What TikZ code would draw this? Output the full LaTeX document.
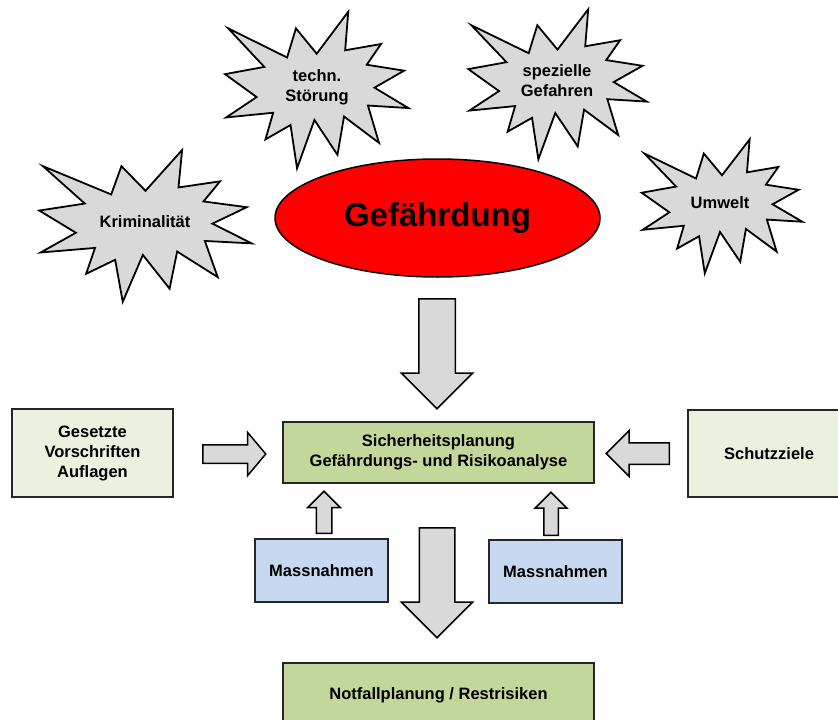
\documentclass[tikz,border=0pt]{standalone}
\usepackage{fontspec}
\setmainfont{Liberation Sans}
\usepackage{tikz}
\usetikzlibrary{positioning}
\usetikzlibrary{shapes.geometric}
\usetikzlibrary{shapes.arrows}

\definecolor{burstgray}{HTML}{D9D9D9}
\definecolor{hazardred}{HTML}{FF0000}
\definecolor{plangreen}{HTML}{C4D79B}
\definecolor{palegreen}{HTML}{EBF1DE}
\definecolor{paleblue}{HTML}{C6D9F1}

% explosion outline in a unit square, centred on the pic origin
\tikzset{
  pics/explosion/.style={code={
    \draw[line width=1.8pt, fill=burstgray, line join=miter]
      (0,-0.2315) -- (0.1723,-0.5) -- (0.1553,-0.2535) -- (0.3509,-0.2937)
      -- (0.2732,-0.1613) -- (0.4767,-0.1233) -- (0.3151,-0.0150) -- (0.5,0.1153)
      -- (0.2795,0.0992) -- (0.3400,0.3377) -- (0.1491,0.1693) -- (0.1133,0.4138)
      -- (-0.0124,0.1914) -- (-0.1072,0.5) -- (-0.1428,0.2235) -- (-0.2795,0.3156)
      -- (-0.2376,0.1452) -- (-0.4938,0.1753) -- (-0.3277,0.0451) -- (-0.5,-0.1012)
      -- (-0.2858,-0.1474) -- (-0.4829,-0.3937) -- (-0.1615,-0.2074) -- (-0.1133,-0.3937)
      -- cycle;
  }}
}

\begin{document}
\begin{tikzpicture}[x=1pt,y=-1pt,
    every node/.style={font=\bfseries\fontsize{16.5}{20}\selectfont, align=center, inner sep=0pt},
    box/.style={rectangle, draw=black!85, line width=1.5pt},
    greenbox/.style={box, fill=plangreen},
    palebox/.style={box, fill=palegreen},
    bluebox/.style={box, fill=paleblue},
    blockarrow/.style={single arrow, draw=black, fill=burstgray, line width=1.5pt,
                       inner xsep=0pt, single arrow tip angle=90, anchor=tail}]
        \useasboundingbox (0,0) rectangle (838,720);
        \clip (0,0) rectangle (838,720);

      % sources of danger
      \pic[xscale=212.4, yscale=151.7] at (145.5,225.9) {explosion};
      \pic[xscale=183.3, yscale=156.6] at (316.7,90)    {explosion};
      \pic[xscale=178.4, yscale=150]   at (557.5,84.3)  {explosion};
      \pic[xscale=160.6, yscale=134]   at (722,206.3)   {explosion};

      \node (krim)   at (145,222)  {Kriminalität};
      \node (tech)   at (317,87)   {techn.\\Störung};
      \node (gefahr) at (557,80.5) {spezielle\\Gefahren};
      \node (umwelt) at (720,203)  {Umwelt};

      \node[ellipse, draw, line width=1.5pt, fill=hazardred, minimum width=325pt, minimum height=118pt,
            font=\bfseries\fontsize{33}{40}\selectfont] (gef) at (437.5,218) {Gefährdung};

      % boxes
      \node[greenbox, minimum width=311pt, minimum height=61pt]  (plan)    at (438.5,452.5) {Sicherheitsplanung\\Gefährdungs- und Risikoanalyse};
      \node[palebox,  minimum width=161pt, minimum height=88pt]  (vorschr) at (92.5,453)    {Gesetzte\\Vorschriften\\Auflagen};
      \node[palebox,  minimum width=162pt, minimum height=87pt]  (schutz)  at (769,453.5)   {Schutzziele};
      \node[bluebox,  minimum width=133pt, minimum height=63pt]  (mass_l)  at (321.5,570.5) {Massnahmen};
      \node[bluebox,  minimum width=133pt, minimum height=63pt]  (mass_r)  at (555.5,571.5) {Massnahmen};
      \node[greenbox, minimum width=311pt, minimum height=64pt]  (rest)    at (438.5,695)   {Notfallplanung / Restrisiken};

      % block arrows, placed by their tails (shaft = 2 x inner ysep)
      \node[blockarrow, rotate=-90, minimum height=110pt, inner ysep=17.5pt, single arrow head extend=17.5pt] (a_gef)  at (437,298)   {};
      \node[blockarrow, rotate=-90, minimum height=110pt, inner ysep=17pt,   single arrow head extend=18pt]   (a_rest) at (437,527)   {};
      \node[blockarrow,             minimum height=63pt,  inner ysep=8.5pt,  single arrow head extend=12.5pt,
            single arrow tip angle=100]                                                                      (a_vor)  at (202,454)   {};
      \node[blockarrow, rotate=180, minimum height=63pt,  inner ysep=10pt,   single arrow head extend=12pt]   (a_sch)  at (670,453.5) {};
      \node[blockarrow, rotate=90,  minimum height=42pt,  inner ysep=7pt,    single arrow head extend=8.5pt]  (a_ml)   at (324,534)   {};
      \node[blockarrow, rotate=90,  minimum height=43pt,  inner ysep=6.5pt,  single arrow head extend=8.5pt]  (a_mr)   at (551,536)   {};
    \end{tikzpicture}
\end{document}
